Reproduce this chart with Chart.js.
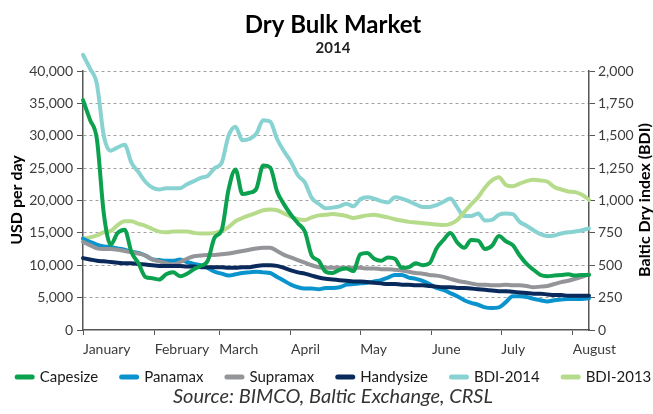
<!DOCTYPE html>
<html>
<head>
<meta charset="utf-8">
<script src="https://cdn.jsdelivr.net/npm/chart.js@4.4.1/dist/chart.umd.min.js"></script>
<style>
  html, body { margin: 0; padding: 0; background: #fff; }
</style>
</head>
<body>
<canvas id="dry-bulk-chart" width="653" height="414"></canvas>
<script>
// Day of year (1 Jan = 0), one reading every 3 days
const days = [0, 3, 6, 9, 12, 15, 18, 21, 24, 27, 30, 33, 36, 39, 42, 45, 48, 51, 54, 57,
  60, 63, 66, 69, 72, 75, 78, 81, 84, 87, 90, 93, 96, 99, 102, 105, 108, 111, 114, 117,
  120, 123, 126, 129, 132, 135, 138, 141, 144, 147, 150, 153, 156, 159, 162, 165, 168, 171, 174, 177,
  180, 183, 186, 189, 192, 195, 198, 201, 204, 207, 210, 213, 216, 219];

const monthStarts = [0, 31, 59, 90, 120, 151, 181, 212];
const monthNames = ['January', 'February', 'March', 'April', 'May', 'June', 'July', 'August'];

// USD per day (left axis)
const capesize = [35500, 32500, 29500, 18000, 13200, 15000, 15500, 12000, 10300, 8200,
  8000, 7800, 8600, 8900, 8300, 8700, 9400, 9900, 10700, 14300,
  15400, 21700, 24800, 21000, 21200, 21800, 25400, 25100, 21400, 19400,
  17800, 16500, 15200, 11500, 10700, 9000, 8800, 9300, 9500, 9100,
  11700, 11900, 11000, 10700, 11200, 11000, 9600, 9700, 10300, 10000,
  10300, 12600, 13900, 15000, 13500, 12700, 13900, 13800, 12500, 13000,
  14500, 13700, 13100, 11500, 10200, 9300, 8500, 8300, 8400, 8500,
  8600, 8400, 8500, 8500];
const panamax = [14100, 13600, 13200, 12900, 12800, 12600, 12400, 12100, 11900, 11500,
  10900, 10800, 10700, 10700, 10900, 10500, 10200, 10000, 9600, 9000,
  8700, 8400, 8600, 8800, 8900, 9000, 8900, 8800, 8200, 7600,
  7000, 6600, 6400, 6400, 6300, 6500, 6500, 6600, 7000, 7100,
  7200, 7300, 7500, 7700, 8100, 8500, 8500, 8100, 7900, 7600,
  7100, 6500, 6200, 5700, 5200, 4600, 4200, 3900, 3500, 3400,
  3500, 4300, 5200, 5200, 5100, 4800, 4600, 4400, 4600, 4700,
  4800, 4800, 4800, 4900];
const supramax = [13600, 13100, 12600, 12500, 12500, 12400, 12200, 12000, 11800, 11500,
  10900, 10600, 10300, 10100, 10500, 11000, 11400, 11500, 11600, 11600,
  11700, 11800, 12000, 12200, 12400, 12600, 12700, 12700, 12200, 11600,
  11200, 10800, 10400, 10000, 9700, 9600, 9600, 9600, 9600, 9600,
  9600, 9500, 9500, 9400, 9400, 9300, 9200, 9000, 8800, 8700,
  8500, 8400, 8200, 7900, 7600, 7400, 7200, 7000, 7000, 6900,
  6900, 7000, 6900, 6900, 6800, 6600, 6700, 6800, 7100, 7400,
  7600, 7900, 8200, 8600];
const handysize = [11100, 10900, 10700, 10600, 10500, 10400, 10300, 10300, 10200, 10100,
  10000, 9900, 9900, 9900, 9900, 9800, 9800, 9700, 9700, 9700,
  9700, 9600, 9600, 9700, 9700, 9900, 10000, 10000, 9900, 9600,
  9200, 8900, 8700, 8400, 8100, 7900, 7800, 7700, 7600, 7500,
  7500, 7400, 7300, 7200, 7100, 7100, 7000, 7000, 6900, 6900,
  6800, 6700, 6600, 6600, 6500, 6500, 6400, 6300, 6200, 6100,
  6000, 6000, 5900, 5800, 5700, 5600, 5600, 5500, 5400, 5400,
  5300, 5300, 5300, 5300];

// Baltic Dry Index (right axis)
const bdi2014 = [2125, 2020, 1900, 1500, 1385, 1410, 1430, 1290, 1220, 1145,
  1100, 1085, 1095, 1095, 1095, 1125, 1150, 1175, 1190, 1250,
  1290, 1500, 1570, 1465, 1475, 1515, 1620, 1610, 1475, 1380,
  1300, 1195, 1140, 1020, 975, 940, 945, 955, 975, 955,
  1010, 1025, 1015, 995, 985, 1025, 1015, 995, 970, 950,
  950, 965, 990, 1015, 945, 880, 880, 900, 845, 850,
  890, 900, 895, 835, 805, 770, 740, 725, 730, 745,
  755, 760, 770, 785];
const bdi2013 = [705, 715, 730, 755, 765, 810, 840, 840, 820, 805,
  780, 760, 755, 760, 760, 760, 750, 745, 745, 750,
  765, 795, 840, 865, 885, 905, 925, 930, 925, 900,
  875, 855, 850, 870, 885, 890, 895, 890, 880, 865,
  875, 885, 890, 880, 870, 855, 845, 835, 830, 825,
  820, 815, 810, 820, 850, 910, 970, 1025, 1100, 1155,
  1180, 1120, 1110, 1130, 1150, 1160, 1155, 1145, 1105, 1085,
  1070, 1065, 1045, 1005];

const toPoints = vals => vals.map((v, i) => ({ x: days[i], y: v }));

function makeSet(label, vals, color, axis, order) {
    return {
        label: label,
        data: toPoints(vals),
        borderColor: color,
        backgroundColor: color,
        yAxisID: axis,
        order: order,
        borderWidth: 4,
        pointRadius: 0,
        clip: false,
        cubicInterpolationMode: 'monotone',
        borderJoinStyle: 'round',
        borderCapStyle: 'round'
    };
}

// Titles, axis names, legend and source line
const textPlugin = {
    id: 'texts',
    afterDraw(chart) {
        const ctx = chart.ctx;
        ctx.save();
        ctx.fillStyle = '#000';
        ctx.textAlign = 'center';
        ctx.textBaseline = 'middle';
        ctx.font = 'bold 24px Lato';
        ctx.fillText('Dry Bulk Market', 333, 25);
        ctx.font = 'bold 15px Lato';
        ctx.fillStyle = '#222';
        ctx.fillText('2014', 333, 48);

        ctx.font = 'bold 16px Lato';
        ctx.fillStyle = '#000';
        [[17, 'USD per day'], [645, 'Baltic Dry index (BDI)']].forEach(([x, t]) => {
            ctx.save();
            ctx.translate(x, 200);
            ctx.rotate(-Math.PI / 2);
            ctx.fillText(t, 0, 0);
            ctx.restore();
        });

        ctx.font = '15px Lato';
        const sets = chart.data.datasets;
        const boxW = 20, gap = 5, spacing = 21;
        const widths = sets.map(d => boxW + gap + ctx.measureText(d.label).width);
        const total = widths.reduce((a, b) => a + b, 0) + spacing * (sets.length - 1);
        let x = 333 - total / 2;
        ctx.textAlign = 'left';
        sets.forEach((d, i) => {
            ctx.fillStyle = d.borderColor;
            ctx.beginPath();
            ctx.roundRect(x, 374.5, boxW, 5, 2.5);
            ctx.fill();
            ctx.fillStyle = '#1a1a1a';
            ctx.fillText(d.label, x + boxW + gap, 377);
            x += widths[i] + spacing;
        });

        ctx.font = 'italic 20px Lato';
        ctx.fillStyle = '#333';
        ctx.textAlign = 'center';
        ctx.fillText('Source: BIMCO, Baltic Exchange, CRSL', 333, 397);
        ctx.restore();
    }
};

document.addEventListener('DOMContentLoaded', () => {
    const ctx = document.getElementById('dry-bulk-chart').getContext('2d');
    const tickFont = { family: 'Lato', size: 14 };
    const axisColor = '#555';

    new Chart(ctx, {
        type: 'line',
        data: {
            datasets: [
                makeSet('Capesize', capesize, '#0ba14f', 'y', 0),
                makeSet('Panamax', panamax, '#0a93cc', 'y', 3),
                makeSet('Supramax', supramax, '#939598', 'y', 2),
                makeSet('Handysize', handysize, '#0b2a5c', 'y', 1),
                makeSet('BDI-2014', bdi2014, '#88d3d2', 'y2', 5),
                makeSet('BDI-2013', bdi2013, '#b6db8a', 'y2', 4)
            ]
        },
        options: {
            responsive: false,
            animation: false,
            layout: { padding: { top: 71, left: 0, right: 0, bottom: 0 } },
            plugins: {
                legend: { display: false },
                title: { display: false },
                tooltip: { enabled: false }
            },
            scales: {
                x: {
                    type: 'linear',
                    min: 0,
                    max: 219,
                    afterBuildTicks: s => { s.ticks = monthStarts.map(v => ({ value: v })); },
                    afterFit: s => { s.height = 84; },
                    ticks: {
                        autoSkip: false,
                        maxRotation: 0,
                        align: 'start',
                        padding: 6,
                        color: '#3c3c3c',
                        font: tickFont,
                        callback: v => monthNames[monthStarts.indexOf(v)]
                    },
                    grid: { drawOnChartArea: false, drawTicks: true, tickLength: 5, tickColor: axisColor },
                    border: { color: axisColor, width: 1.5 }
                },
                y: {
                    position: 'left',
                    min: 0,
                    max: 40000,
                    afterFit: s => { s.width = 83; },
                    ticks: {
                        stepSize: 5000,
                        padding: 4,
                        color: '#3c3c3c',
                        font: tickFont,
                        callback: v => v.toLocaleString('en-US')
                    },
                    grid: {
                        color: c => (c.tick && c.tick.value === 0) ? 'rgba(0,0,0,0)' : '#a0a0a0',
                        lineWidth: 1,
                        tickLength: 6,
                        tickColor: axisColor
                    },
                    border: { color: axisColor, width: 1.5, dash: [3, 3] }
                },
                y2: {
                    position: 'right',
                    min: 0,
                    max: 2000,
                    afterFit: s => { s.width = 64; },
                    ticks: {
                        stepSize: 250,
                        padding: 3,
                        color: '#3c3c3c',
                        font: tickFont,
                        callback: v => v.toLocaleString('en-US')
                    },
                    grid: { drawOnChartArea: false, tickLength: 6, tickColor: axisColor },
                    border: { color: axisColor, width: 1.5 }
                }
            }
        },
        plugins: [textPlugin]
    });
});
</script>
</body>
</html>
